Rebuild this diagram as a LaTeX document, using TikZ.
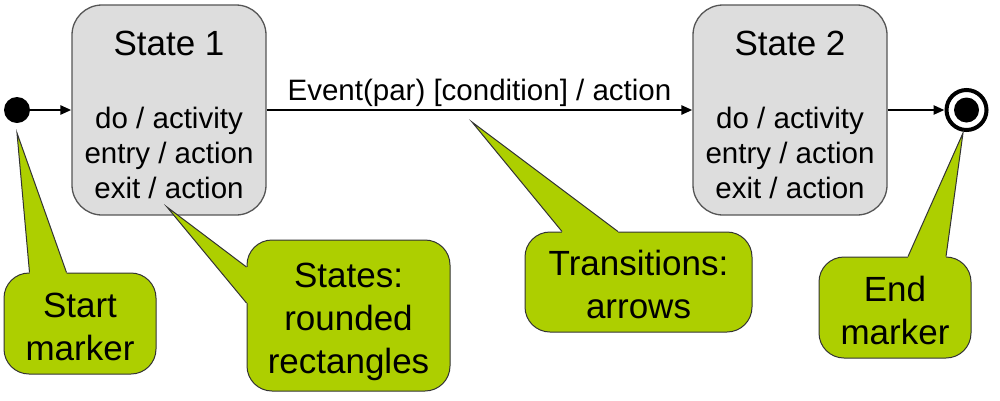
\documentclass[tikz,border=0pt]{standalone}
\usepackage{fontspec}
\setmainfont{Liberation Sans}
\usetikzlibrary{arrows.meta}
\definecolor{stategray}{HTML}{DDDDDD}
\definecolor{stateline}{HTML}{555555}
\definecolor{notegreen}{HTML}{ADCF00}
\begin{document}
\begin{tikzpicture}[x=1pt, y=-1pt,
  state/.style={draw=stateline, line width=1.3pt, fill=stategray, rounded corners=30pt,
    minimum width=194pt, minimum height=210pt},
  title/.style={font=\fontsize{35}{42}\selectfont},
  body/.style={align=center, font=\fontsize{29.5}{35}\selectfont},
  note/.style={draw=black!80, line width=1pt, fill=notegreen, rounded corners=25pt,
    align=center, text depth=0pt, font=\fontsize{35}{43}\selectfont},
  trans/.style={line width=2.5pt, -{Triangle[length=11pt,width=9pt]}},
  pointer/.style={draw=black!80, line width=1pt, line join=miter}]

\useasboundingbox (0,0) rectangle (1000,400);

\def\ym{110}; % main line

% markers
\node[circle, fill=black, inner sep=0pt, minimum size=26pt] (start) at (17,\ym) {};
\node[circle, draw=black, line width=4pt, fill=white, inner sep=0pt, minimum size=40pt] (end) at (966.5,\ym) {};
\node[circle, fill=black, inner sep=0pt, minimum size=25pt] (enddot) at (end.center) {};

% states
\node[state] (s1) at (169,\ym) {};
\node[title] (s1title) at (169,43) {State 1};
\node[body] (s1body) at (169,153) {do / activity\\entry / action\\exit / action};

\node[state] (s2) at (790,\ym) {};
\node[title] (s2title) at (790,43) {State 2};
\node[body] (s2body) at (790,153) {do / activity\\entry / action\\exit / action};

% transitions
\draw[trans] (start) -- (s1);
\draw[trans] (s1) -- node[above, inner sep=2pt, body] (event) {Event(par) [condition] / action} (s2);
\draw[trans] (s2) -- (end);

% notes
\node[note, text height=73pt, minimum width=152pt, minimum height=101pt] (startnote) at (80,323.5) {Start\\marker};
\node[note, text height=116pt, minimum width=203pt, minimum height=151pt] (statesnote) at (348.5,315.5) {States:\\rounded\\rectangles};
\node[note, text height=72pt, minimum width=227pt, minimum height=100pt] (transnote) at (638.5,282) {Transitions:\\arrows};
\node[note, text height=73pt, minimum width=152pt, minimum height=101pt] (endnote) at (895,307.5) {End\\marker};

\coordinate (starttip) at (17,133);
\coordinate (statestip) at (167,207);
\coordinate (transtip) at (472,122);
\coordinate (endtip) at (963,133);

% pointers
\fill[notegreen] (starttip) -- ([xshift=26pt]startnote.north west) -- ([xshift=26pt,yshift=-4pt]startnote.north west)
  -- ([xshift=63pt,yshift=-4pt]startnote.north west) -- ([xshift=63pt]startnote.north west) -- cycle;
\draw[pointer] ([xshift=26pt]startnote.north west) -- (starttip) -- ([xshift=63pt]startnote.north west);

\fill[notegreen] (statestip) -- ([yshift=-27.5pt]statesnote.north west) -- ([xshift=4pt,yshift=-27.5pt]statesnote.north west)
  -- ([xshift=4pt,yshift=-63.5pt]statesnote.north west) -- ([yshift=-63.5pt]statesnote.north west) -- cycle;
\draw[pointer] ([yshift=-27.5pt]statesnote.north west) -- (statestip) -- ([yshift=-63.5pt]statesnote.north west);

\fill[notegreen] (transtip) -- ([xshift=37.5pt]transnote.north west) -- ([xshift=37.5pt,yshift=-4pt]transnote.north west)
  -- ([xshift=93.5pt,yshift=-4pt]transnote.north west) -- ([xshift=93.5pt]transnote.north west) -- cycle;
\draw[pointer] ([xshift=37.5pt]transnote.north west) -- (transtip) -- ([xshift=93.5pt]transnote.north west);

\fill[notegreen] (endtip) -- ([xshift=89.5pt]endnote.north west) -- ([xshift=89.5pt,yshift=-4pt]endnote.north west)
  -- ([xshift=127.5pt,yshift=-4pt]endnote.north west) -- ([xshift=127.5pt]endnote.north west) -- cycle;
\draw[pointer] ([xshift=89.5pt]endnote.north west) -- (endtip) -- ([xshift=127.5pt]endnote.north west);

\end{tikzpicture}
\end{document}
